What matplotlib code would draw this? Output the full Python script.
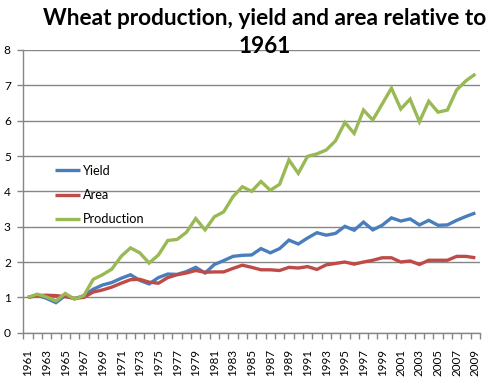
import matplotlib
matplotlib.use("Agg")
import matplotlib.pyplot as plt
import numpy as np

years = list(range(1961, 2010))
yield_vals = [1.0, 1.06, 0.97, 0.85, 1.05, 0.96, 1.05, 1.23, 1.35, 1.42,
              1.54, 1.64, 1.48, 1.38, 1.56, 1.66, 1.65, 1.73, 1.85, 1.69,
              1.93, 2.04, 2.16, 2.19, 2.2, 2.38, 2.26, 2.38, 2.62, 2.51,
              2.68, 2.83, 2.76, 2.81, 3.01, 2.9, 3.13, 2.91, 3.04, 3.25,
              3.16, 3.22, 3.05, 3.18, 3.04, 3.05, 3.18, 3.29, 3.39]
area_vals = [1.0, 1.05, 1.06, 1.05, 1.02, 0.97, 1.0, 1.15, 1.21, 1.29,
             1.4, 1.5, 1.51, 1.43, 1.40, 1.56, 1.64, 1.69, 1.76, 1.71,
             1.72, 1.72, 1.82, 1.91, 1.85, 1.78, 1.78, 1.76, 1.85, 1.83,
             1.87, 1.79, 1.92, 1.96, 2.0, 1.94, 2.0, 2.05, 2.12, 2.12,
             2.0, 2.03, 1.93, 2.05, 2.05, 2.05, 2.16, 2.16, 2.12]
production_vals = [1.0, 1.09, 1.01, 0.9, 1.11, 0.95, 1.05, 1.51, 1.64, 1.8,
                   2.16, 2.4, 2.26, 1.97, 2.2, 2.61, 2.64, 2.84, 3.23, 2.91,
                   3.28, 3.42, 3.85, 4.13, 4.0, 4.28, 4.03, 4.2, 4.89, 4.51,
                   4.99, 5.06, 5.17, 5.43, 5.95, 5.64, 6.3, 6.02, 6.47, 6.92,
                   6.33, 6.61, 5.97, 6.55, 6.24, 6.3, 6.87, 7.13, 7.32]
series_names = ["Yield", "Area", "Production"]
y_ticks = list(range(0, 9))
title_text = "Wheat production, yield and area relative to\n1961"

colors = ["#4A7EBB", "#BE4B48", "#98B954"]
grid_c = "#868686"
FONT = "Lato"

W, H = 497, 379
fig = plt.figure(figsize=(W / 100, H / 100), dpi=100)
ax = fig.add_axes([23.3 / W, 1 - 332.7 / H, (480 - 23.3) / W, (332.7 - 50) / H])

x = np.arange(len(years))
for vals, name, c in zip([yield_vals, area_vals, production_vals], series_names, colors):
    ax.plot(x, vals, color=c, lw=2.4, label=name, solid_joinstyle="miter",
            solid_capstyle="butt", zorder=3)

ax.set_xlim(-0.5, len(years) - 0.5)
ax.set_ylim(0, 8)
ax.set_yticks(y_ticks)
ax.set_yticklabels([str(v) for v in y_ticks], fontsize=8.6, family=FONT)
ax.yaxis.grid(True, color=grid_c, lw=1.0)
ax.set_axisbelow(True)

ax.set_xticks(x[::2])
ax.set_xticklabels([str(y) for y in years[::2]], rotation=90, fontsize=8.4,
                   family=FONT)
ax.set_xticks(np.arange(-0.5, len(years), 1.0), minor=True)
ax.tick_params(axis="x", which="major", length=0, pad=11.5)
ax.tick_params(axis="x", which="minor", length=4, width=1, color=grid_c, direction="out")
ax.tick_params(axis="y", length=4, width=1, color=grid_c, pad=5)

for s in ["top", "right"]:
    ax.spines[s].set_visible(False)
for s in ["left", "bottom"]:
    ax.spines[s].set_color(grid_c)
    ax.spines[s].set_linewidth(1.0)

fs_leg = 9.2
leg = ax.legend(loc="center left", bbox_to_anchor=((55 - 23.3) / (480 - 23.3), (332.7 - 195) / (332.7 - 50)),
                frameon=False, borderpad=0, borderaxespad=0,
                handlelength=25 / (fs_leg * 100 / 72), handletextpad=0.25,
                labelspacing=0.95, prop={"family": FONT, "size": fs_leg})

fig.text(265 / W, 1 - 8 / H, title_text, ha="center", va="top", fontsize=16.3,
         fontweight="bold", family=FONT, linespacing=1.42)

fig.savefig("out.png", dpi=100)
